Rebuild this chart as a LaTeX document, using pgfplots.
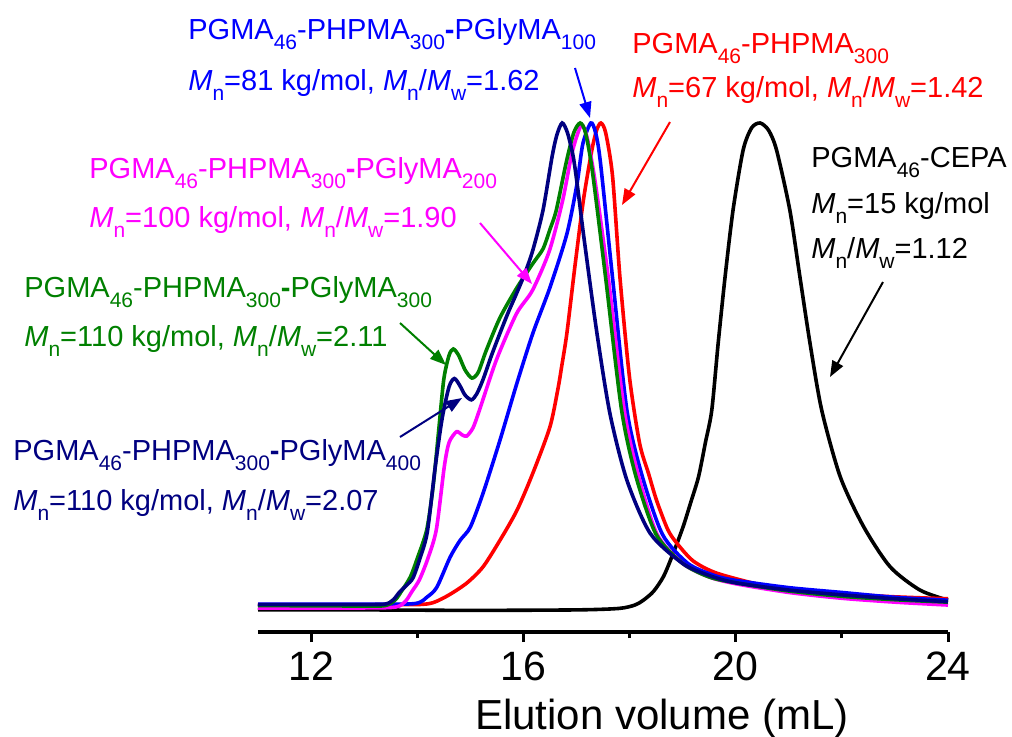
\documentclass[border=0pt]{standalone}
\usepackage{fontspec}
\setmainfont{Liberation Sans}
\usepackage{pgfplots}
\pgfplotsset{compat=1.18}
\usetikzlibrary{arrows.meta}

\definecolor{navy}{RGB}{0,0,128}
\definecolor{ogreen}{RGB}{0,128,0}
\definecolor{pmag}{RGB}{255,0,255}
\newcommand\ann{\fontsize{14.5}{17}\selectfont}
\newcommand\sub[1]{\raisebox{-5pt}{\fontsize{10.5}{12}\selectfont #1}}
\newcommand\Mn{\textit{M}\sub{n}}
\newcommand\Mw{\textit{M}\sub{w}}

\begin{document}
\begin{tikzpicture}
\begin{axis}[
    name=ax, scale only axis, width=345pt, height=316pt,
    xmin=11, xmax=24, ymin=-0.0517, ymax=1.2541,
    axis x line=bottom, axis y line=none,
    axis line style={-, line width=1.6pt},
    xtick={12,16,20,24}, minor xtick={14,18,22},
    tick align=outside, major tick length=5pt, minor tick length=3pt,
    tick style={black, line width=1.5pt},
    /pgf/number format/assume math mode=true,
    xticklabel style={font=\fontsize{20.5}{24}\selectfont, yshift=-1.5pt},
    xlabel={Elution volume (mL)},
    xlabel style={at={(axis description cs:0.5855,0)}, anchor=base, yshift=-48.5pt, font=\fontsize{21}{24}\selectfont},
    clip=false,
    every axis plot/.append style={line width=1.8pt, smooth, tension=0.45},
  ]
  % PGMA46-CEPA
  \addplot[black] coordinates {
    (11,-0.006) (13,-0.006) (15,-0.007) (17,-0.006) (17.8,-0.003) (18.1,0.004)
    (18.26,0.014) (18.45,0.032) (18.64,0.063) (18.82,0.11) (19.01,0.166) (19.15,0.215)
    (19.30,0.269) (19.43,0.34) (19.55,0.407) (19.67,0.545) (19.80,0.682) (19.95,0.82)
    (20.14,0.944) (20.30,0.99) (20.46,1.0) (20.62,0.985) (20.77,0.944) (21.02,0.82)
    (21.21,0.682) (21.40,0.545) (21.62,0.407) (21.97,0.269) (22.41,0.166) (22.91,0.083)
    (23.47,0.035) (24,0.014)
  };
  % PGMA46-PHPMA300
  \addplot[red] coordinates {
    (11,0.005) (13,0.005) (14,0.005) (14.3,0.009) (14.6,0.025) (14.94,0.05) (15.24,0.083)
    (15.56,0.138) (15.88,0.2) (16.18,0.277) (16.5,0.372) (16.65,0.45) (16.72,0.496)
    (16.82,0.566) (16.97,0.703) (17.13,0.84) (17.29,0.944) (17.38,0.985) (17.46,1.0)
    (17.55,0.98) (17.68,0.89) (17.82,0.68) (18.0,0.474) (18.19,0.338) (18.36,0.275)
    (18.51,0.22) (18.72,0.16) (18.89,0.132) (19.2,0.095) (19.64,0.07) (20.5,0.045)
    (21.2,0.035) (22,0.027) (23,0.021) (24,0.017)
  };
  % PGMA46-PHPMA300-PGlyMA100
  \addplot[blue] coordinates {
    (11,0.006) (13,0.006) (13.95,0.007) (14.19,0.021) (14.37,0.041) (14.62,0.103)
    (14.81,0.138) (15.0,0.165) (15.24,0.235) (15.56,0.345) (15.88,0.463) (16.18,0.566)
    (16.5,0.66) (16.82,0.771) (17.01,0.874) (17.12,0.957) (17.27,1.0) (17.36,0.98)
    (17.45,0.92) (17.68,0.68) (17.95,0.407) (18.24,0.27) (18.62,0.15) (19.1,0.09)
    (19.6,0.065) (20,0.055) (21,0.04) (22,0.03) (23,0.02) (24,0.014)
  };
  % PGMA46-PHPMA300-PGlyMA200
  \addplot[pmag] coordinates {
    (11,-0.002) (13,-0.002) (13.6,0.0) (13.78,0.012) (13.9,0.032) (14.04,0.056) (14.2,0.1)
    (14.36,0.16) (14.51,0.29) (14.6,0.34) (14.74,0.362) (14.84,0.356) (14.93,0.353)
    (15.05,0.37) (15.17,0.406) (15.49,0.51) (15.87,0.606) (16.17,0.654) (16.49,0.736)
    (16.74,0.84) (16.92,0.94) (17.09,0.995) (17.2,0.97) (17.35,0.88) (17.6,0.68)
    (17.9,0.407) (18.17,0.27) (18.52,0.15) (19,0.09) (19.5,0.062) (20,0.048) (21,0.03)
    (22,0.018) (23,0.01) (24,0.004)
  };
  % PGMA46-PHPMA300-PGlyMA300
  \addplot[ogreen] coordinates {
    (11,0.003) (13,0.002) (13.4,0.003) (13.58,0.014) (13.7,0.032) (13.87,0.062) (14.0,0.1)
    (14.18,0.16) (14.3,0.25) (14.4,0.36) (14.5,0.47) (14.6,0.52) (14.68,0.533)
    (14.78,0.52) (14.9,0.49) (15.03,0.473) (15.15,0.485) (15.3,0.53) (15.56,0.598)
    (15.88,0.66) (16.18,0.71) (16.37,0.74) (16.5,0.78) (16.62,0.82) (16.81,0.92)
    (16.95,0.98) (17.07,1.0) (17.17,0.98) (17.3,0.9) (17.55,0.68) (17.85,0.407)
    (18.12,0.27) (18.5,0.15) (19,0.09) (19.5,0.062) (20,0.05) (21,0.033) (22,0.022)
    (23,0.015) (24,0.01)
  };
  % PGMA46-PHPMA300-PGlyMA400
  \addplot[navy] coordinates {
    (11,0.005) (13,0.005) (13.4,0.006) (13.55,0.015) (13.66,0.03) (13.8,0.045)
    (13.92,0.06) (14.05,0.1) (14.19,0.155) (14.34,0.29) (14.47,0.39) (14.6,0.455)
    (14.7,0.472) (14.8,0.458) (14.9,0.438) (15.02,0.428) (15.12,0.44) (15.24,0.47)
    (15.4,0.52) (15.56,0.566) (15.72,0.61) (15.88,0.65) (16.03,0.69) (16.18,0.738)
    (16.37,0.82) (16.54,0.93) (16.63,0.975) (16.73,1.0) (16.83,0.98) (16.94,0.93)
    (17.03,0.86) (17.13,0.772) (17.38,0.57) (17.63,0.40) (17.95,0.262) (18.39,0.152)
    (19.0,0.09) (19.5,0.065) (20.0,0.05) (21.0,0.035) (22,0.025) (23,0.017) (24,0.011)
  };
\end{axis}
% annotations, positioned in image pixels (origin top left)
\begin{scope}[shift={(ax.south west)}, xshift=-129pt, yshift=316pt, x=0.5pt, y=-0.5pt,
    every node/.style={anchor=base west, inner sep=0pt, font=\ann},
    arr/.style={line width=1pt, -{Triangle[length=8pt,width=6pt]}}]
  \node[text=blue] at (188,39) {PGMA\sub{46}-PHPMA\sub{300}{\bfseries -}PGlyMA\sub{100}};
  \node[text=blue] at (188,90) {\Mn=81 kg/mol, \Mn/\Mw=1.62};
  \draw[arr, blue] (575,68) -- (590,118);
  \node[text=red] at (632,53) {PGMA\sub{46}-PHPMA\sub{300}};
  \node[text=red] at (632,97) {\Mn=67 kg/mol, \Mn/\Mw=1.42};
  \draw[arr, red] (670,122) -- (622,205);
  \node[text=black] at (811,167) {PGMA\sub{46}-CEPA};
  \node[text=black] at (811,213) {\Mn=15 kg/mol};
  \node[text=black] at (811,258) {\Mn/\Mw=1.12};
  \draw[arr, black] (883,282) -- (830,377);
  \node[text=pmag] at (89,178) {PGMA\sub{46}-PHPMA\sub{300}{\bfseries -}PGlyMA\sub{200}};
  \node[text=pmag] at (89,227) {\Mn=100 kg/mol, \Mn/\Mw=1.90};
  \draw[arr, pmag] (480,223) -- (532,284);
  \node[text=ogreen] at (24,297) {PGMA\sub{46}-PHPMA\sub{300}{\bfseries -}PGlyMA\sub{300}};
  \node[text=ogreen] at (24,346) {\Mn=110 kg/mol, \Mn/\Mw=2.11};
  \draw[arr, ogreen] (400,323) -- (446,365);
  \node[text=navy] at (13,460) {PGMA\sub{46}-PHPMA\sub{300}{\bfseries -}PGlyMA\sub{400}};
  \node[text=navy] at (13,510) {\Mn=110 kg/mol, \Mn/\Mw=2.07};
  \draw[arr, navy] (400,437) -- (462,398);
  \pgfresetboundingbox
  \path[use as bounding box] (0,0) rectangle (1012,736);
\end{scope}
\end{tikzpicture}
\end{document}
